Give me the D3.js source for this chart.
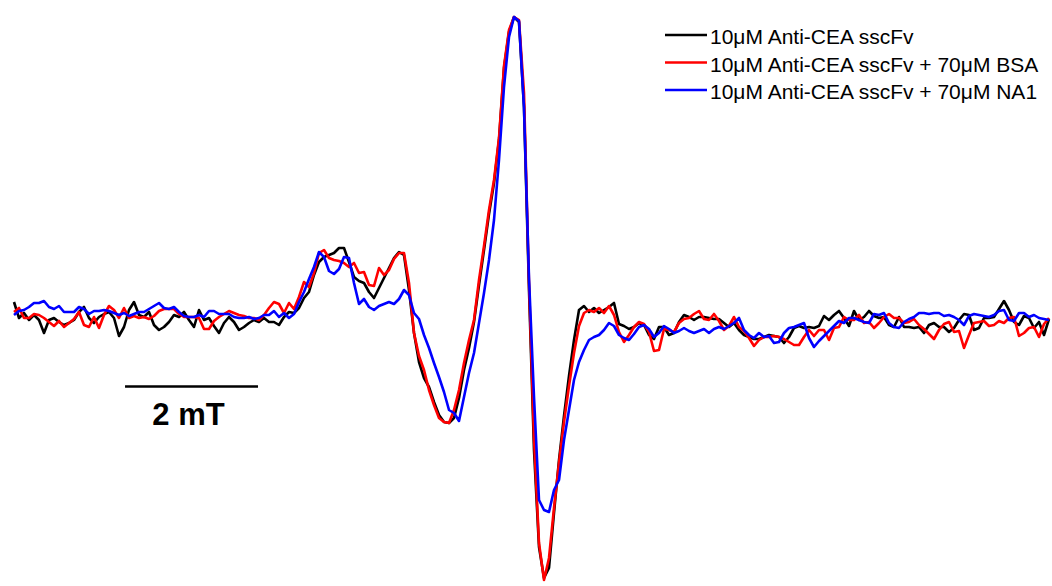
<!DOCTYPE html>
<html>
<head>
<meta charset="utf-8">
<script src="https://cdn.jsdelivr.net/npm/d3@7"></script>
<style>
    body { margin: 0; background: #fff; }
    text { font-family: "Liberation Sans", Arial, sans-serif; }
</style>
</head>
<body>
<div id="epr_chart"></div>
<script>
// =============================================================================
// data
// =============================================================================
// field sweep, uniform sampling (mT per point)
var fieldStep = 0.0752;

// derivative EPR signal, arbitrary units
var antiCEA = [
    16, 0, 5, -2, 3, -2, -15, -2, 0, -4,
    -7, -5, -2, 6, 11, 0, -5, 1, 4, 6,
    0, -18, -9, 8, 16, 3, 1, 6, -7, -12,
    -9, -4, 3, 1, 6, -2, -9, 8, -2, 0,
    -8, -15, -5, 1, -4, -12, -9, -5, -2, -4,
    0, -4, -4, -7, 1, 6, 5, 10,
    20, 26, 43, 56, 61, 63, 65, 70, 70, 56, 41, 37,
    35, 26, 20, 30, 40, 50, 60, 66, 63, 28,
    -15, -44, -60, -69, -84, -97, -104, -105, -100, -80, -52, -30,
    -4, 33, 68, 104, 135, 178, 250, 286, 301, 296, 211, 28, -132, -229, -260,
    -250, -195, -142, -98, -58, -22, 8, 12, 6, 10, 5, 8, 11,
    15, -6, -8, -11, -9, -5, -7, -17, -21, -9,
    -9, -17, -15, -4, 3, 1, -2, 1, 1, 0,
    -1, -1, -5, -9, -5, -12, -17, -19, -21, -21,
    -19, -17, -18, -19, -25, -19, -10, -8, -10, -9,
    -10, -8, 2, -2, 3, 7, 0, -8, 7, -2,
    1, 7, 2, 0, 1, -7, -9, 1, -9, -9,
    -10, -9, -15, -7, -5, -9, -9, -14, -10, -2,
    4, 3, -12, -10, 0, 0, 1, 9, 17, 8,
    -4, -7, 2, 0, -10, -4, -17, -1
];

var antiCEA_BSA = [
    6, 10, 0, 0, 4, 3, 0, -4, -8, -3,
    -9, -5, -1, 6, -7, -9, 1, -10, 3, 12,
    8, 0, 10, 0, 2, 0, 1, -1, 2, 7,
    9, 9, 9, 4, 1, 1, 1, 0, -11, -11,
    -3, 1, 4, 7, 5, 3, 2, 0, 0, -2,
    3, 10, 16, 14, 5, 15, 9, 21,
    36, 31, 45, 65, 68, 60, 58, 57, 55, 51, 55, 45,
    46, 33, 32, 50, 43, 48, 59, 65, 65, 35,
    -15, -38, -52, -72, -87, -100, -104, -105, -92, -72, -45, -22,
    -2, 38, 72, 108, 138, 180, 252, 288, 301, 298, 225, 35, -120, -225, -262,
    -240, -190, -145, -104, -68, -35, -8, 5, 8, 6, 10, 5, 12,
    3, -14, -24, -17, -9, -4, -6, -14, -33, -32,
    -11, -12, -14, -5, -1, 0, 4, 7, -1, -2,
    4, -3, -12, -8, 1, -9, -13, -20, -28, -22,
    -19, -19, -18, -19, -21, -24, -27, -27, -19, -12,
    -18, -12, -12, -22, -10, -9, 1, -2, -2, 3,
    -5, -4, -10, -5, 1, 4, 0, 0, -5, -4,
    -1, -7, -11, -16, -21, -12, -6, -4, -14, -13,
    -30, -17, -5, -4, -3, -8, -7, -3, -5, 0,
    1, -18, -15, -10, -9, -19, -6, 0
];

var antiCEA_NA1 = [
    3, 7, 8, 11, 15, 15, 17, 11, 9, 12,
    6, 6, 6, 11, 9, 4, 7, 7, 8, 7,
    5, 3, 5, 2, 4, 6, 6, 9, 12, 15,
    10, 9, 11, 6, 2, 1, 1, 3, 1, 7,
    7, 4, 4, 4, 1, 0, 0, 1, -1, 0,
    3, 3, 7, 1, 5, 0, 4, 16,
    26, 39, 51, 66, 61, 47, 44, 49, 61, 60, 35, 14,
    19, 11, 8, 12, 14, 16, 14, 19, 28, 23,
    5, -1, -17, -30, -45, -59, -74, -92, -95, -103, -79, -55,
    -35, -5, 25, 58, 98, 158, 231, 281, 301, 297, 210, 40, -79, -182, -192,
    -194, -172, -162, -122, -92, -62, -44, -32, -22, -19, -17, -12, -5,
    -8, -17, -20, -22, -16, -9, -7, -11, -19, -15,
    -8, -11, -15, -13, -10, -13, -15, -13, -11, -15,
    -11, -9, -11, -8, -5, 0, -12, -17, -20, -15,
    -19, -18, -25, -24, -15, -10, -9, -7, -5, -20,
    -29, -23, -18, -13, -8, -3, -5, 0, 0, -2,
    -4, -5, 4, 3, 5, -5, -9, -10, -4, -1,
    1, 5, 5, 4, 5, 5, 2, 3, 1, -2,
    -7, 2, 4, 3, 2, 1, 3, 7, 8, -2,
    -3, 5, 5, 1, 3, 0, -1, -2
];

var seriesLabels = [
    "10\u03bcM Anti-CEA sscFv",
    "10\u03bcM Anti-CEA sscFv + 70\u03bcM BSA",
    "10\u03bcM Anti-CEA sscFv + 70\u03bcM NA1"
];
var seriesColors = ["#000000", "#ff0000", "#0000ff"];

// scale bar (mT)
var scaleBarStart = 1.67;
var scaleBarLength = 2;
var scaleBarLabel = "2 mT";

// =============================================================================
// UI
// =============================================================================
var width = 1052,
    height = 586;

var _svg = d3.select("#epr_chart").append("svg")
    .attr("width", width)
    .attr("height", height);

var _series = [antiCEA, antiCEA_BSA, antiCEA_NA1];
var nPoints = antiCEA.length;

var x = d3.scaleLinear()
    .domain([0, (nPoints - 1) * fieldStep])
    .range([14, 1049]);

var y = d3.scaleLinear()
    .domain([-262, 301])
    .range([580, 17]);

var line = d3.line()
    .x(function (d, i) { return x(i * fieldStep); })
    .y(function (d) { return y(d); });

// spectra, black first so that red and blue sit on top
_svg.append("g")
    .attr("class", "spectra")
    .selectAll("path")
    .data(_series)
    .enter()
    .append("path")
    .attr("fill", "none")
    .attr("stroke", function (d, i) { return seriesColors[i]; })
    .attr("stroke-width", 2.6)
    .attr("stroke-linejoin", "round")
    .attr("d", line);

// scale bar
var scaleBar = _svg.append("g").attr("class", "scaleBar");
scaleBar.append("line")
    .attr("x1", x(scaleBarStart))
    .attr("x2", x(scaleBarStart + scaleBarLength))
    .attr("y1", 386.5)
    .attr("y2", 386.5)
    .attr("stroke", "black")
    .attr("stroke-width", 2.5);
scaleBar.append("text")
    .attr("x", x(scaleBarStart + scaleBarLength / 2) - 3)
    .attr("y", 425)
    .attr("text-anchor", "middle")
    .attr("font-size", "31px")
    .attr("font-weight", "bold")
    .text(scaleBarLabel);

// legend
var legend = _svg.append("g")
    .attr("class", "legend")
    .attr("transform", "translate(665,35)");

var legendItem = legend.selectAll("g")
    .data(seriesLabels)
    .enter()
    .append("g")
    .attr("transform", function (d, i) { return "translate(0," + (i * 27.5) + ")"; });

legendItem.append("line")
    .attr("x1", 0)
    .attr("x2", 42)
    .attr("stroke", function (d, i) { return seriesColors[i]; })
    .attr("stroke-width", 2.6);

legendItem.append("text")
    .attr("x", 45)
    .attr("y", 9)
    .attr("font-size", "21px")
    .text(function (d) { return d; });
</script>
</body>
</html>
